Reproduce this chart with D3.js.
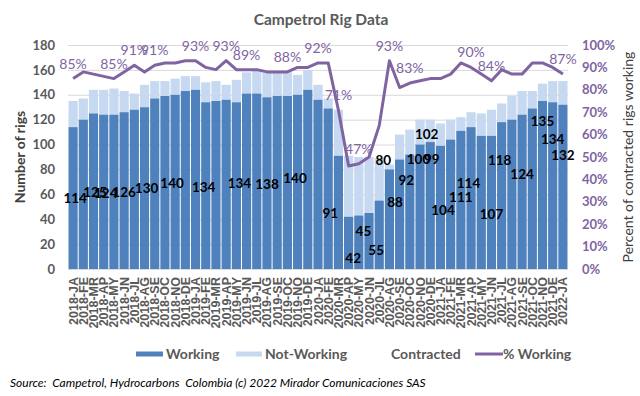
<!DOCTYPE html>
<html>
<head>
<meta charset="utf-8">
<script src="https://cdn.jsdelivr.net/npm/d3@7"></script>
<style>
  body { margin: 0; background: #fff; }
  svg { display: block; font-family: Lato, "Open Sans", sans-serif; }
</style>
</head>
<body>
<div id="chart"></div>
<script>
// months shown on the x axis
const years = ['2018', '2019', '2020', '2021'];
const monthCodes = ['JA', 'FE', 'MR', 'AP', 'MY', 'JN', 'JL', 'AG', 'SE', 'OC', 'NO', 'DE'];
const months = years.flatMap(y => monthCodes.map(m => `${y}-${m}`)).concat(['2022-JA']);

// rigs working (dark part of the bar)
const working = [
  114, 120, 125, 124, 124, 126, 128, 130, 137, 139, 140, 143,
  144, 134, 135, 136, 134, 141, 141, 138, 139, 139, 140, 144,
  136, 129, 91, 42, 43, 45, 55, 80, 88, 92, 100, 102,
  99, 104, 111, 114, 107, 107, 118, 120, 124, 129, 135, 134,
  132
];

// rigs under contract (top of the bar)
const contracted = [
  135, 137, 144, 144, 145, 143, 141, 148, 151, 151, 153, 155,
  155, 150, 151, 148, 152, 158, 160, 158, 158, 158, 156, 160,
  148, 137, 128, 91, 90, 90, 89, 84, 108, 112, 120, 120,
  117, 120, 122, 126, 125, 128, 133, 139, 143, 143, 149, 151,
  151
];

// % of contracted rigs working (line, right axis)
const pctWorking = [
  85, 88, 87, 86, 85, 88, 91, 88, 91, 92, 92, 93,
  93, 90, 89, 93, 89, 89, 89, 88, 88, 88, 90, 90,
  92, 92, 71, 46, 47, 50, 64, 93, 81, 83, 84, 85,
  85, 87, 92, 90, 87, 84, 89, 87, 87, 92, 92, 90,
  87
];

// which points carry a % label
const pctLabelAt = [0, 4, 6, 8, 12, 15, 17, 21, 24, 26, 28, 31, 33, 39, 41, 48];

// working-rig labels as placed in the original: [month index, height in rigs, shift in bars]
const workingLabels = [
  [0, 57, 0.2], [2, 62, 0.15], [3, 61, 0.2], [5, 62, 0], [7, 65, 0.2],
  [10, 69, -0.3], [13, 66, -0.2], [16, 69, 0.3], [19, 68, 0], [22, 73, -0.25],
  [26, 45, -0.8], [27, 9, 0.45], [29, 30, -0.55], [30, 15, -0.3], [31, 87, -0.6],
  [32, 54, -0.45], [33, 71, -0.35], [34, 88, -0.15], [35, 108, -0.35], [36, 88, -0.85],
  [37, 47, -0.75], [38, 58, 0], [39, 69, -0.25], [41, 44, 0], [42, 87, -0.2],
  [44, 76, 0], [46, 119, 0], [47, 104, 0], [48, 91, 0]
];

const rigTicks = d3.range(0, 181, 20);
const pctTicks = d3.range(0, 1.001, 0.1);

const width = 640;
const height = 396;
const plot = { left: 68, right: 568, top: 45, bottom: 269 };

const darkBlue = '#4f81bd';
const lightBlue = '#c6d9f1';
const purple = '#8064a2';
const textGray = '#595959';

const svg = d3.select('#chart')
  .append('svg')
  .attr('width', width)
  .attr('height', height);

svg.append('rect')
  .attr('width', width)
  .attr('height', height)
  .attr('fill', '#fff');

const x = d3.scaleBand()
  .domain(months)
  .range([plot.left, plot.right])
  .paddingInner(0.1)
  .paddingOuter(0.05);

const yRigs = d3.scaleLinear()
  .domain([0, 180])
  .range([plot.bottom, plot.top]);

const yPct = d3.scaleLinear()
  .domain([0, 1])
  .range([plot.bottom, plot.top]);

// gridlines
svg.append('g')
  .attr('transform', `translate(${plot.left},0)`)
  .call(d3.axisLeft(yRigs).tickValues(rigTicks).tickSize(-(plot.right - plot.left)).tickFormat(''))
  .call(g => g.select('.domain').remove())
  .call(g => g.selectAll('line').attr('stroke', '#d9d9d9').attr('stroke-width', 1));

// left axis labels
svg.append('g')
  .attr('transform', `translate(${plot.left},0)`)
  .call(d3.axisLeft(yRigs).tickValues(rigTicks).tickSize(0).tickPadding(13))
  .call(g => g.select('.domain').remove())
  .call(g => g.selectAll('text')
    .attr('fill', textGray)
    .style('font-size', '13px')
    .style('font-weight', 'bold')
    .style('font-family', 'Lato, sans-serif'));

// right axis labels
svg.append('g')
  .attr('transform', `translate(${plot.right},0)`)
  .call(d3.axisRight(yPct).tickValues(pctTicks).tickSize(0).tickPadding(14).tickFormat(d3.format('.0%')))
  .call(g => g.select('.domain').remove())
  .call(g => g.selectAll('text')
    .attr('fill', purple)
    .style('font-size', '13px')
    .style('font-weight', 'bold')
    .style('font-family', 'Lato, sans-serif'));

// bottom axis, labels turned upright
svg.append('g')
  .attr('transform', `translate(0,${plot.bottom})`)
  .call(d3.axisBottom(x).tickSize(0))
  .call(g => g.select('.domain').remove())
  .call(g => g.selectAll('text')
    .attr('transform', 'rotate(-90)')
    .attr('x', -8)
    .attr('y', 0)
    .attr('dy', '0.36em')
    .attr('text-anchor', 'end')
    .attr('fill', textGray)
    .style('font-size', '12.5px')
    .style('font-weight', 'bold')
    .style('font-family', '"Liberation Sans", Arial, sans-serif'));

const rows = months.map((m, i) => ({
  month: m,
  working: working[i],
  contracted: contracted[i],
  pct: pctWorking[i] / 100
}));

// contracted (light) behind, working (dark) on top
svg.append('g')
  .selectAll('rect')
  .data(rows)
  .join('rect')
  .attr('x', d => x(d.month))
  .attr('width', x.bandwidth())
  .attr('y', d => yRigs(d.contracted))
  .attr('height', d => yRigs(d.working) - yRigs(d.contracted))
  .attr('fill', lightBlue);

svg.append('g')
  .selectAll('rect')
  .data(rows)
  .join('rect')
  .attr('x', d => x(d.month))
  .attr('width', x.bandwidth())
  .attr('y', d => yRigs(d.working))
  .attr('height', d => plot.bottom - yRigs(d.working))
  .attr('fill', darkBlue);

// % working line
const cx = d => x(d.month) + x.bandwidth() / 2;

const line = d3.line()
  .x(cx)
  .y(d => yPct(d.pct));

svg.append('path')
  .datum(rows)
  .attr('d', line)
  .attr('fill', 'none')
  .attr('stroke', purple)
  .attr('stroke-width', 3)
  .attr('stroke-linejoin', 'round');

svg.append('g')
  .selectAll('text')
  .data(pctLabelAt.map(i => rows[i]))
  .join('text')
  .attr('x', cx)
  .attr('y', d => yPct(d.pct) - 10)
  .attr('text-anchor', 'middle')
  .attr('fill', purple)
  .style('font-size', '14px')
  .text(d => d3.format('.0%')(d.pct));

// working values
const step = x.step();
svg.append('g')
  .selectAll('text')
  .data(workingLabels)
  .join('text')
  .attr('x', d => cx(rows[d[0]]) + d[2] * step)
  .attr('y', d => yRigs(d[1]))
  .attr('dy', '0.35em')
  .attr('text-anchor', 'middle')
  .attr('fill', '#000')
  .style('font-size', '13.5px')
  .style('font-weight', 'bold')
  .text(d => working[d[0]]);

// title
svg.append('text')
  .attr('x', 321)
  .attr('y', 25)
  .attr('text-anchor', 'middle')
  .attr('fill', textGray)
  .style('font-size', '15.5px')
  .style('font-weight', 'bold')
  .text('Campetrol Rig Data');

// axis titles
svg.append('text')
  .attr('transform', `translate(20,${(plot.top + plot.bottom) / 2}) rotate(-90)`)
  .attr('text-anchor', 'middle')
  .attr('dy', '0.35em')
  .attr('fill', '#404040')
  .style('font-size', '14px')
  .style('font-weight', 'bold')
  .text('Number of rigs');

svg.append('text')
  .attr('transform', `translate(628,${(plot.top + plot.bottom) / 2}) rotate(-90)`)
  .attr('text-anchor', 'middle')
  .attr('dy', '0.35em')
  .attr('fill', '#404040')
  .style('font-size', '14px')
  .text('Percent of contracted rigs working');

// legend
const legend = svg.append('g')
  .attr('transform', 'translate(0,354)')
  .style('font-size', '14px')
  .style('font-weight', 'bold')
  .attr('fill', textGray);

legend.append('rect').attr('x', 136).attr('y', -2.5).attr('width', 27).attr('height', 5).attr('fill', darkBlue);
legend.append('text').attr('x', 166).attr('dy', '0.35em').text('Working');
legend.append('rect').attr('x', 236).attr('y', -2.5).attr('width', 26).attr('height', 5).attr('fill', lightBlue);
legend.append('text').attr('x', 265).attr('dy', '0.35em').text('Not-Working');
legend.append('text').attr('x', 391).attr('dy', '0.35em').text('Contracted');
legend.append('line').attr('x1', 475).attr('x2', 503).attr('stroke', purple).attr('stroke-width', 3);
legend.append('text').attr('x', 503).attr('dy', '0.35em').text('% Working');

// source note (double spaces kept as in the original)
svg.append('text')
  .attr('x', 10)
  .attr('y', 387)
  .attr('fill', '#000')
  .style('white-space', 'pre')
  .style('font-size', '12px')
  .style('font-style', 'italic')
  .text('Source:  Campetrol, Hydrocarbons  Colombia (c) 2022 Mirador Comunicaciones SAS');
</script>
</body>
</html>
